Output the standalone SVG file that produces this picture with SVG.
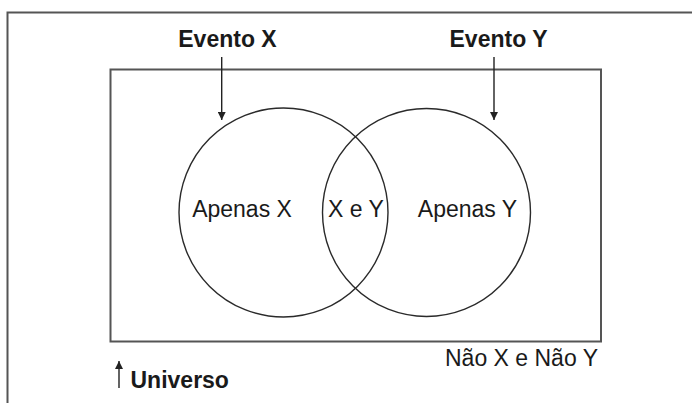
<svg xmlns="http://www.w3.org/2000/svg" width="692" height="403" viewBox="0 0 692 403">
<defs>
<marker id="ah" viewBox="0 0 10 10" refX="10" refY="5" markerWidth="8" markerHeight="8" markerUnits="userSpaceOnUse" orient="auto">
<path d="M0,0 L10,5 L0,10 z" fill="#222"/>
</marker>
</defs>
<style>
.frame{fill:none;stroke:#555;stroke-width:2}
.circ{fill:none;stroke:#2a2a2a;stroke-width:1.4}
.conn{stroke:#222;stroke-width:1.4;fill:none;marker-end:url(#ah)}
.b{font-family:"Liberation Sans",Arial,sans-serif;font-weight:bold;font-size:23px;fill:#1a1a1a}
.r{font-family:"Liberation Sans",Arial,sans-serif;font-size:23px;fill:#1a1a1a}
</style>
<rect width="692" height="403" fill="#fff"/>
<path class="frame" d="M7.5,404 L7.5,12.5 L693,12.5"/>
<g id="universo">
<rect class="frame" x="110.5" y="69.5" width="490.5" height="272"/>
<text class="b" x="130.5" y="388">Universo</text>
<text class="r" x="445" y="365.5">Não X e Não Y</text>
</g>
<g id="eventoX">
<circle class="circ" cx="283.5" cy="212.5" r="104.5"/>
<text class="b" x="227.5" y="46.5" text-anchor="middle">Evento X</text>
<text class="r" x="242" y="216.5" text-anchor="middle">Apenas X</text>
</g>
<g id="eventoY">
<circle class="circ" cx="426.5" cy="212.5" r="104"/>
<text class="b" x="498.5" y="46.5" text-anchor="middle">Evento Y</text>
<text class="r" x="467.5" y="216.5" text-anchor="middle">Apenas Y</text>
</g>
<g id="intersecao">
<text class="r" x="356" y="216.5" text-anchor="middle">X e Y</text>
</g>
<g id="connectors">
<line class="conn" x1="221.7" y1="57" x2="221.7" y2="120"/>
<line class="conn" x1="494" y1="57" x2="494" y2="120"/>
<line class="conn" x1="119" y1="388" x2="119" y2="361"/>
</g>
</svg>
